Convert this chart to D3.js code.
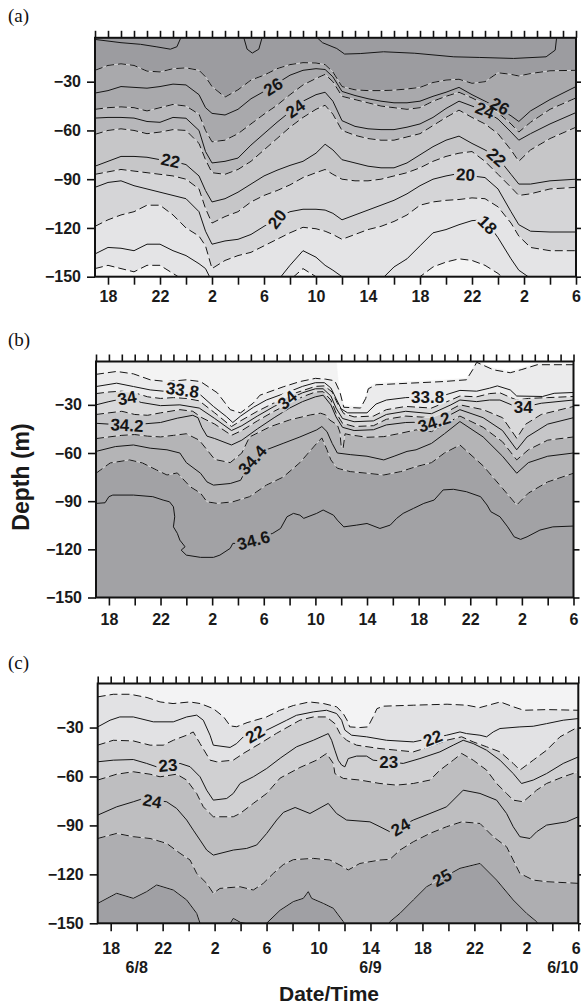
<!DOCTYPE html>
<html><head><meta charset="utf-8">
<script src="https://cdn.jsdelivr.net/npm/d3@7"></script>
<style>body{margin:0;background:#fff}</style>
</head><body>
<svg id="chart" width="581" height="1005"></svg>
<script>
// ---------- Panel (a) temperature (°C): depth of each isotherm at each hour ----------
const tempHours = [17,18,19,20,21,22,23,24,25,25.5,26,27,28,29,30,31,32,33,34,34.7,35.3,36,37,38,39,40,41,42,43,44,45,46,47,48,49,49.6,50.5,52,54];
const t28 = [[17,-4],[19,-6],[20.5,-7],[21.7,-8.5],[22.8,-10],[23.3,-8.5],[23.6,-3],[23.75,3],[28.3,3],[28.45,-3],[28.7,-10],[29.1,-12.4],[29.6,-10],[29.85,-3],[30,3],[33.9,3],[34.1,-3],[34.5,-6],[35.6,-9.6],[36.2,-13],[37.4,-12.7],[39.2,-11.6],[41.6,-12.5],[44.6,-14.7],[46.6,-15.1],[49.2,-15.7],[51.7,-14.7],[52.4,-10.6],[52.5,-3.5],[52.6,3],[54,3]];
const t27 = [-23,-20,-19,-20,-23.5,-24,-22,-21.5,-23,-27,-33,-39.5,-35,-29,-26,-22,-19.5,-18.3,-18.5,-19.5,-24,-33,-35,-35.5,-35.5,-35.2,-34.5,-33.5,-30.5,-29,-28.5,-31,-30,-24.5,-25.5,-26.5,-25,-23.3,-23];
const t26 = [-37,-35.5,-33,-33.5,-34,-33,-31.5,-32,-38,-46,-49.5,-50.5,-47,-40.5,-36,-31,-26,-23,-22,-22.5,-27,-36,-38.5,-40.5,-42,-43,-43,-42,-39,-36.5,-33.5,-38,-42,-46,-51,-54.5,-48,-41,-33];
const t25 = [-47,-46,-45.5,-46,-48,-46,-44,-45,-50,-60,-67,-66,-62,-56,-50,-44.5,-38,-32,-28,-25.5,-30,-39,-41,-43,-45,-46,-47,-46,-42,-39,-36.5,-40,-44,-49,-56,-61,-55,-47,-40];
const t24 = [-52.4,-52,-52,-52.4,-54.5,-55,-52,-52.5,-60,-73,-80,-79,-77,-69,-62,-55,-48.5,-42,-38,-36.5,-42,-54,-57.5,-59,-59.5,-59.5,-58,-56,-52,-46.5,-42,-45,-48,-53,-61,-66,-62,-56,-49];
const t23 = [-62.4,-60,-59,-60,-62,-61,-59.5,-60,-68,-78,-86,-87,-84,-79,-72,-65,-58,-52,-47,-44.5,-50,-60,-63,-65,-66,-66,-64,-62,-57,-52,-47.5,-52,-56,-62,-72,-79,-72,-65,-58];
const t22 = [-82,-79,-76,-76,-76.5,-78,-79,-81,-88,-97,-104,-102,-98,-93,-88,-84.5,-81.5,-79,-74,-68.5,-72,-78,-80,-82,-83,-83,-80,-75,-70,-66,-63.5,-68,-72,-77,-87,-93,-93,-91,-90];
const t21 = [-87,-85.5,-84,-85,-86,-87,-88,-90,-96,-108,-117,-113,-110,-104,-100,-97,-93.5,-89,-86,-84,-87,-90,-91,-91,-90,-88,-86,-83,-79,-76,-74,-73,-79,-87,-95,-100,-99,-96,-95];
const t20 = [-95,-92,-91,-94,-96,-98,-100,-102,-110,-122,-130,-128,-127,-124,-119,-114,-110,-108.5,-108.5,-109,-111,-115,-112,-109,-106,-103,-99,-94,-90,-88,-86.5,-88,-89,-96,-110,-118,-122,-122.5,-122.5];
const t19 = [-119,-115,-112,-110,-106,-106,-112,-120,-125,-131,-145,-140,-137,-135,-131,-127,-123,-119.6,-120.5,-122,-124,-127,-124,-121,-119,-116,-112,-106,-104,-103,-102.5,-101.5,-102,-107,-117,-125,-132,-134,-134];
const t18 = [-136,-132,-132.5,-134,-130,-130,-134,-137,-142,-145,-153,-155,-155,-155,-155,-153,-143,-134,-138,-143,-146,-150,-155,-155,-152,-144,-139,-131,-123,-121,-118,-115.5,-115,-126,-139,-146,-151,-155,-155];
const t17 = [-145,-143,-145,-147,-143,-143,-148,-153,-160,-160,-160,-160,-160,-160,-160,-160,-152,-145,-150,-155,-160,-160,-160,-160,-160,-160,-160,-150,-144,-141,-139,-140,-143,-148,-155,-160,-160,-160,-160];
const tempColors = ["#9c9ca0","#a9a9ac","#b7b7ba","#c6c6c8","#d5d5d7","#e4e4e6","#f4f4f4"];
const tempLabels = [["26",30.7,-33,-32],["24",32.4,-46.5,-35],["22",22.8,-78.5,12],["20",31,-114.5,-52],["26",48.15,-45,28],["24",47,-47.5,22],["22",47.9,-76.5,42],["20",45.5,-87,3],["18",47.2,-118,45]];

// ---------- Panel (b) salinity ----------
const s336 = [[17,3],[35.55,3],[35.8,-18],[36.2,-30.5],[37.5,-31],[37.9,-25],[38.1,-19],[38.7,-16.5],[41.3,-15.5],[43.9,-14.5],[45.7,-13.4],[46.2,-7],[46.5,-2.5],[47.8,-7.2],[49.1,-9],[50,-7],[51.2,-4],[54,-4]];
const s337 = [[17,-11],[18.6,-9.2],[19.9,-10.7],[21.2,-14.4],[22.5,-15.5],[24,-14.4],[25.1,-15.5],[26.4,-22.5],[27.4,-33],[28.2,-35],[29.2,-28.8],[29.7,-24],[31.5,-18.8],[32.8,-15.5],[34,-13.5],[34.8,-14],[35.5,-15],[35.9,-22],[36.2,-31.5],[37.5,-32],[37.9,-26],[38.1,-20],[38.7,-17.5],[41.3,-16.5],[43.9,-15.5],[45.7,-14.4],[46.2,-8],[46.5,-3.5],[47.8,-8.2],[49.1,-10],[50,-8],[51.2,-5],[54,-5]];
const s338 = [[17,-18.6],[18.6,-16.5],[19.9,-18.6],[21.2,-20.7],[22.5,-21.7],[23.7,-21],[25.1,-23.8],[26.1,-31],[27.1,-37.3],[27.6,-41],[28.2,-37],[29.2,-31.5],[30.2,-27],[32,-21.7],[33,-18.5],[34,-16.2],[34.7,-16.2],[35.2,-19.5],[35.6,-26],[36,-32.5],[36.5,-35],[38,-35],[38.7,-29.5],[39.5,-27],[41,-25.5],[42.7,-25],[44,-24],[45.2,-21],[46.5,-21.5],[47.5,-19.6],[48.1,-18.2],[49.1,-20.7],[49.6,-24.5],[51.6,-24.8],[52.5,-22.8],[54,-22.3]];
const s339 = [[17,-23],[18,-22],[19,-21.5],[20,-22.5],[21,-25],[22,-26],[23,-25.5],[24,-26],[25,-27.5],[26.2,-35],[27.5,-43.5],[28.2,-40],[29.5,-34],[31,-28],[32.5,-22.5],[34,-18.5],[34.7,-18.2],[35.3,-22],[35.7,-29],[36.2,-35.5],[37,-37.5],[38.5,-37],[39.5,-33],[41,-31],[43,-32],[44.5,-27],[45.2,-24.5],[46.5,-25],[47.5,-23],[48.3,-22.5],[49,-25],[49.6,-27],[50.5,-26],[52,-25.5],[54,-24.8]];
const s340 = [[17,-30],[18,-28],[19.4,-25.6],[20.5,-28.5],[22,-30.5],[23.5,-30],[25,-32],[26.2,-38.5],[27.5,-46],[28.3,-43],[29.5,-37],[30.8,-31],[31.8,-27],[33,-22.5],[34,-20],[34.6,-20],[35.2,-24.5],[35.6,-32],[36.1,-38.5],[37,-40.5],[38.5,-40],[39.5,-36],[41,-34],[43,-35.5],[44.5,-30],[45.2,-27],[46.5,-28],[47.5,-27],[48.3,-27],[49.2,-30],[50.1,-31.5],[51.5,-29],[54,-27]];
const s341 = [[17,-36],[18,-35],[19,-34],[20,-36],[21,-36.5],[22,-35],[23.5,-33],[24.5,-34],[25.2,-38],[26.2,-42],[27.5,-49],[28.3,-46],[29.5,-40],[30.8,-34],[32,-29],[33,-25],[34,-22],[34.6,-21.8],[35.2,-27],[35.6,-35],[36.1,-41.5],[37,-43.5],[38.5,-43],[39.5,-39],[41,-37],[43,-38],[44.5,-33],[45.2,-30],[47,-33],[48.5,-38],[49.6,-50.8],[50.3,-42],[51.5,-36],[54,-31]];
const s342 = [[17,-41.5],[18,-42],[19.4,-42.5],[20.5,-42],[22,-41],[23.3,-38.3],[24.5,-36.5],[24.9,-38],[25.2,-44],[25.6,-49.5],[26.2,-51],[27.5,-55],[28.3,-52],[29.5,-45],[30.8,-38],[32,-32],[33,-28],[34,-25],[34.6,-24],[35.2,-30],[35.6,-37.5],[36.1,-44],[37,-46],[38.5,-45.5],[39.5,-42.5],[41,-41],[43.2,-40.6],[44.5,-36],[45.2,-33],[47,-38],[48.5,-46],[49.6,-58],[50.4,-50],[52,-42],[54,-38]];
const s343 = [[17,-51],[18,-50],[19,-49],[20,-48.5],[21,-49.5],[22,-50],[23,-49],[24,-48],[25,-52],[25.6,-58],[26.2,-64],[27.4,-66],[28.3,-60],[28.9,-50],[30.5,-43.6],[32,-39.4],[33.6,-36.3],[34.4,-35.2],[34.8,-36.3],[35.1,-39.4],[35.7,-42.5],[35.9,-47],[36,-56],[36.15,-57],[36.3,-48],[36.7,-48.7],[38,-50.2],[39.3,-49.8],[40.6,-47.7],[41.8,-45.6],[43,-46.7],[44.5,-40],[45.2,-37],[47,-44],[48.5,-53],[49.6,-64.3],[50.5,-58],[52,-52],[54,-50]];
const s344 = [[17,-59],[18.5,-56],[19.9,-55],[21.2,-57],[22.5,-58],[23.5,-60],[24,-66],[25.1,-72.6],[25.6,-78],[26.1,-80],[27.4,-79],[28.2,-77],[28.6,-71],[29.1,-64.3],[30.2,-58],[31.5,-54],[32.8,-50],[34.1,-45.6],[34.5,-43.5],[34.9,-46.7],[35.3,-54],[35.7,-60],[36.7,-61],[38,-62],[39.3,-64.3],[40.1,-62],[41.1,-59],[41.8,-58],[43,-54],[44,-48],[45.2,-40.4],[47,-50],[48.5,-62],[49.6,-72.6],[50.5,-66],[52,-62],[54,-60]];
const s345 = [[17,-72.6],[18.1,-66.2],[19.6,-64.3],[20.6,-66.2],[21.7,-70.6],[22.5,-73.7],[23.3,-72.4],[24.3,-81],[25.1,-85],[25.6,-90.4],[26.4,-91.4],[27.6,-90.4],[28.9,-87.2],[30.2,-80],[31.5,-75],[32.8,-66],[34.1,-54],[34.5,-50.6],[34.9,-58],[35.2,-64.3],[35.7,-69.5],[36.7,-71.6],[38,-72.6],[39.3,-73.7],[40.6,-71.6],[41.8,-68.5],[43,-66],[44,-60],[45.2,-55],[47,-68],[48.5,-82],[49.6,-92.4],[50.5,-85],[52,-78],[54,-72.6]];
const s346 = [[17,-91.4],[17.7,-91],[18,-87.2],[18.3,-86.2],[19.9,-86.2],[21.4,-87.2],[22.2,-89.3],[22.7,-90.4],[23,-93.5],[23.1,-99.7],[23,-106],[23.3,-110],[23.5,-114.3],[23.9,-118.4],[23.6,-120.5],[24,-123.6],[25.1,-125],[26.1,-125],[26.6,-123.6],[27.4,-119.4],[27.6,-116.3],[28.2,-116.3],[29.2,-114.3],[30.7,-110],[31.3,-107],[31.8,-99.7],[32.3,-97.6],[32.8,-98.7],[33.1,-100.7],[34.1,-97.6],[34.6,-95.5],[35.4,-98.7],[35.7,-101.8],[36.2,-106],[37.2,-104.9],[38,-103.9],[39,-107],[39.8,-104.9],[40.3,-100.7],[40.8,-97.6],[41.6,-94.5],[42.4,-91.4],[43.2,-89.3],[43.9,-83],[44.7,-82.6],[45.7,-84.1],[46.8,-87.2],[47.3,-92.4],[47.6,-96.6],[48.3,-99.7],[48.9,-106],[49.4,-112.2],[49.9,-113.8],[50.4,-112.2],[51.4,-108],[52.4,-106],[54,-105.5]];
const salColors = ["#ffffff","#f3f3f3","#ebebec","#d9d9da","#c6c6c8","#b4b4b6","#a2a2a5"];
const salLabels = [["34",19.4,-25.6,-10],["33.8",23.7,-20.6,8],["34.2",19.4,-42.5,3],["34",31.8,-26.9,-40],["34.4",29.1,-64.3,-48],["34.6",29.2,-114.3,-15],["33.8",42.7,-25,0],["34.2",43.2,-40.6,-18],["34",50.1,-31.2,0]];

// ---------- Panel (c) density ----------
const d215 = [[17,-11.2],[18.2,-9.6],[19.5,-9.6],[20.8,-11.6],[21.8,-14.3],[22.8,-15.3],[24.1,-14.3],[24.9,-15.3],[25.9,-18.4],[26.7,-23.5],[27.2,-29],[27.7,-29.5],[28.5,-27],[30,-23.5],[31,-19.5],[32.06,-16.5],[33.3,-14.3],[34.4,-15.3],[35.4,-17.3],[35.9,-21.4],[36.2,-25.5],[36.4,-29.6],[37.2,-30],[37.8,-29.6],[38.2,-23.5],[38.5,-18.4],[39,-16.9],[41.3,-16.3],[43.9,-15.7],[45.4,-16.3],[46.4,-17.8],[48,-14.3],[49,-17.3],[49.8,-19.4],[51.6,-19],[54,-19.4]];
const d22 = [[17,-29.6],[17.95,-25.5],[18.7,-23.5],[19.74,-23.5],[20.26,-24.5],[21.28,-26.5],[22.82,-26.5],[23.85,-23.5],[24.62,-22.4],[25.13,-25.5],[25.65,-34.7],[25.9,-40.8],[27.19,-42.2],[27.7,-39.8],[28.21,-35.7],[30.01,-31.6],[31.55,-25.5],[32.3,-22.5],[33.6,-20.4],[34.62,-19.4],[35.39,-21.4],[35.78,-25.5],[36.03,-31.6],[36.55,-34.7],[37.7,-35.7],[39.24,-37.8],[41.3,-38.8],[43.86,-34.7],[44.89,-32.7],[45.4,-33.7],[46.43,-34.7],[46.94,-35.7],[47.45,-32.7],[47.97,-30.6],[49.5,-29.6],[50.53,-29.2],[51.56,-27.6],[52.84,-25.5],[54,-24.5]];
const d225 = [[17,-40.8],[18.2,-37.8],[19.74,-38.2],[21.03,-40.8],[22.05,-40.8],[22.82,-37.8],[23.85,-34.7],[24.36,-32.7],[24.88,-39.8],[25.65,-50],[26.16,-51],[27.44,-50],[28.21,-45.9],[29.5,-39.8],[30.78,-33.5],[32.57,-25.5],[33.6,-23.5],[34.62,-23.5],[35.26,-27.6],[35.65,-33.7],[36.16,-37.8],[36.93,-40.8],[38.73,-42.9],[41.3,-44.9],[42.58,-41.8],[43.86,-37.8],[45.02,-35.7],[45.91,-38.8],[46.94,-41.8],[47.97,-44.9],[48.99,-52],[49.5,-56.1],[50.53,-50],[51.56,-43.9],[52.59,-35.7],[54,-29.6]];
const d23 = [[17,-51],[18.2,-50],[19.74,-49.6],[20.77,-52],[21.54,-54.1],[23.34,-52],[24.11,-54],[24.88,-60.2],[25.39,-68.4],[25.9,-74.5],[26.93,-73.5],[27.44,-70.4],[27.96,-64.3],[28.98,-60.2],[30.01,-55.1],[31.1,-48.5],[32.31,-41.8],[33.6,-37.8],[34.75,-33.7],[35.01,-37.8],[35.26,-43.9],[35.52,-50],[35.78,-53],[36.03,-54.1],[36.29,-49],[36.93,-47.5],[37.7,-47.5],[38.2,-50],[39.4,-51],[40.52,-52],[41.81,-49],[43.35,-44.9],[44.37,-40.8],[45.14,-37.8],[45.91,-39.8],[46.94,-43.9],[47.97,-50],[48.99,-58.2],[49.63,-64.3],[50.53,-62.2],[51.56,-58.2],[52.84,-52],[54,-48]];
const d235 = [[17,-62.2],[18.46,-58.6],[19.74,-57.1],[21.03,-58.6],[21.8,-60.2],[23.08,-58.6],[23.85,-62.2],[24.62,-70.4],[25.13,-78.6],[25.9,-84.7],[27.44,-84.7],[27.96,-82.7],[28.98,-76.5],[30.01,-70.4],[31.04,-61],[32.57,-54.5],[33.85,-50],[34.62,-45.9],[35.14,-52],[35.26,-58.2],[35.91,-61.2],[37.19,-62.2],[38.73,-64.3],[40.01,-65.3],[41.3,-64.3],[42.58,-62.2],[43.35,-56.1],[44.37,-50],[45.02,-45.9],[45.91,-50],[46.94,-56.1],[47.71,-64.3],[48.48,-70.4],[48.99,-74.5],[49.76,-75.5],[50.79,-68.4],[51.56,-64.3],[52.84,-60.2],[54,-57.1]];
const d24 = [[17,-83.7],[18.46,-78.6],[19.74,-75.5],[20.51,-73.5],[22.31,-75.5],[23.08,-79.6],[23.85,-86.7],[24.36,-92.9],[24.88,-99],[25.39,-105.1],[25.9,-108.2],[27.44,-105.1],[28.47,-104.1],[29.24,-102],[30.01,-94.9],[30.78,-86.7],[31.3,-82],[32.2,-79],[33.34,-82.7],[34.75,-76.5],[35.39,-82.7],[36.16,-86.7],[37.96,-87.8],[38.73,-90.8],[39.5,-93.9],[41.3,-86.7],[42.58,-82.7],[43.86,-78.6],[45.14,-68.4],[46.43,-70.4],[47.71,-74.5],[48.48,-82.7],[48.99,-90.8],[49.5,-96.9],[50.28,-98],[50.79,-93.9],[51.56,-89.8],[53.1,-87.8],[54,-84.7]];
const d245 = [[17,-98],[18.46,-94.9],[19.74,-96.9],[21.03,-98],[22.31,-101],[23.34,-107.1],[24.11,-111.2],[24.62,-119.4],[25.39,-125.5],[25.9,-131.6],[26.42,-128.6],[27.96,-127.6],[28.98,-129.6],[29.75,-125.5],[30.52,-119.4],[31.29,-114],[32.06,-111],[33.6,-110.2],[34.88,-111.2],[35.65,-114.3],[36.29,-117.3],[37.19,-113.3],[38.73,-111.2],[39.5,-110.8],[40.27,-105.1],[41.3,-100],[42.58,-94.9],[43.86,-90.8],[45.02,-87.8],[46.43,-88.8],[47.45,-96.9],[48.48,-103.1],[49.5,-119.4],[50.53,-123.5],[51.56,-124.5],[54,-125.5]];
const d25 = [[17,-137.8],[18.46,-131.6],[19.74,-134.7],[20.77,-130.6],[21.54,-126.5],[22.82,-129.6],[23.85,-135.7],[24.62,-143.9],[24.88,-150],[25.2,-155],[27,-155],[27.2,-150],[27.44,-147],[28,-149.5],[29,-151],[30,-150],[31.04,-142],[32.06,-136.7],[32.83,-134.7],[33.21,-130.6],[33.47,-134.7],[34.37,-137.8],[35.14,-140.8],[35.91,-149],[36.3,-155],[39.2,-155],[39.5,-149],[40.27,-143.9],[41.3,-135.7],[42.32,-127.6],[44.89,-116.3],[46.43,-113.3],[47.71,-123.5],[48.99,-135.7],[50.02,-143.9],[50.79,-149],[51.2,-155],[54,-155]];
const denColors = ["#f3f3f4","#e2e2e4","#d0d0d2","#bebec0","#aeaeb1","#a0a0a4"];
const denLabels = [["22",29.1,-34,-30],["23",22.4,-53,-5],["24",21.2,-75,10],["22",42.8,-36.5,-22],["23",39.4,-51,0],["24",40.3,-91,-30],["25",43.5,-122,-28]];

// ---------- axes ----------
const depthTicks = [-30,-60,-90,-120,-150];
const topTickHours = d3.range(17,55,1);
const bottomTickHours = d3.range(18,55,2);
const dateLabels = [["6/8",20,"middle"],["6/9",38,"middle"],["6/10",54,"end"]];

const SANS = "Arial, 'Liberation Sans', Helvetica, sans-serif";
const SERIF = "'Times New Roman', 'Liberation Serif', Times, serif";
const zipA = arr => tempHours.map((h,i)=>[h,arr[i]]);

const panels = [
  {id:"a", tag:"(a)", tagY:22, x0:95, x1:576, y0:37.8, y1:276.7, labPad:5.5,
   colors:tempColors, bounds:[zipA(t27),zipA(t25),zipA(t23),zipA(t21),zipA(t19),zipA(t17)],
   lines:[[t28,0],[zipA(t27),1],[zipA(t26),0],[zipA(t25),1],[zipA(t24),0],[zipA(t23),1],[zipA(t22),0],[zipA(t21),1],[zipA(t20),0],[zipA(t19),1],[zipA(t18),0],[zipA(t17),1]],
   labels:tempLabels},
  {id:"b", tag:"(b)", tagY:346, x0:96, x1:573.5, y0:361.5, y1:597.5, labPad:8.5,
   colors:salColors, bounds:[s336,s337,s339,s341,s343,s345],
   lines:[[s337,1],[s338,0],[s339,1],[s340,0],[s341,1],[s342,0],[s343,1],[s344,0],[s345,1],[s346,0]],
   labels:salLabels},
  {id:"c", tag:"(c)", tagY:669, x0:97.7, x1:578.3, y0:683.5, y1:923.3, labPad:11.5,
   colors:denColors, bounds:[d215,d225,d235,d245,d25],
   lines:[[d215,1],[d22,0],[d225,1],[d23,0],[d235,1],[d24,0],[d245,1],[d25,0]],
   labels:denLabels}
];

const svg = d3.select("#chart");
const defs = svg.append("defs");

function hourLabel(h){ return ((h-18)%4===0) ? String(h%24) : ""; }

panels.forEach(p=>{
  const x = d3.scaleLinear().domain([17,54]).range([p.x0,p.x1]);
  const y = d3.scaleLinear().domain([-150,-3]).range([p.y1,p.y0]);
  const line = d3.line().x(d=>x(d[0])).y(d=>y(d[1]));

  defs.append("clipPath").attr("id","clip-"+p.id).append("rect")
    .attr("x",p.x0).attr("y",p.y0).attr("width",p.x1-p.x0).attr("height",p.y1-p.y0);
  const mask = defs.append("mask").attr("id","mask-"+p.id).attr("maskUnits","userSpaceOnUse")
    .attr("x",0).attr("y",0).attr("width",581).attr("height",1005);
  mask.append("rect").attr("width",581).attr("height",1005).attr("fill","white");

  const plot = svg.append("g").attr("clip-path","url(#clip-"+p.id+")");
  plot.append("rect").attr("x",p.x0).attr("y",p.y0).attr("width",p.x1-p.x0).attr("height",p.y1-p.y0).attr("fill",p.colors[0]);
  p.bounds.forEach((b,i)=>{
    plot.append("path").attr("d", line(b.concat([[54.5,-220],[16.5,-220]]))+"Z").attr("fill",p.colors[i+1]);
  });
  p.bounds.forEach(b=>{
    plot.append("path").attr("d",line(b)).attr("fill","none").attr("stroke","#f2f2f2").attr("stroke-width",0.7).attr("opacity",0.8);
  });
  const lg = plot.append("g").attr("mask","url(#mask-"+p.id+")");
  p.lines.forEach(([pts,dashed])=>{
    lg.append("path").attr("d",line(pts)).attr("fill","none").attr("stroke","#151515")
      .attr("stroke-width",1).attr("stroke-dasharray",dashed?"8,4":null);
  });
  p.labels.forEach(([t,h,d,a])=>{
    const tx=x(h), ty=y(d);
    const txt = plot.append("text").attr("transform",`translate(${tx},${ty}) rotate(${a})`)
      .attr("text-anchor","middle").attr("dy","0.36em").style("font-family",SANS).attr("font-size",17).attr("font-weight","bold")
      .attr("fill","#161616").text(t);
    const w = txt.node().getComputedTextLength();
    mask.append("rect").attr("transform",`translate(${tx},${ty}) rotate(${a})`)
      .attr("x",-w/2-2).attr("y",-7.5).attr("width",w+4).attr("height",15).attr("fill","black");
  });

  const styleAxis = g => { g.select(".domain").remove(); g.selectAll("line").attr("stroke","#111").attr("stroke-width",1.6);
    g.selectAll("text").style("font-family",SANS).attr("font-size",16).attr("font-weight","bold").attr("fill","#1a1a1a"); };
  svg.append("g").attr("transform",`translate(${p.x0},0)`)
    .call(d3.axisLeft(y).tickValues(depthTicks).tickSize(8).tickPadding(6).tickFormat(d3.format("d"))).call(styleAxis);
  svg.append("g").attr("transform",`translate(${p.x1},0)`)
    .call(d3.axisRight(y).tickValues(depthTicks).tickSize(6).tickFormat("")).call(styleAxis);
  svg.append("g").attr("transform",`translate(0,${p.y0})`)
    .call(d3.axisTop(x).tickValues(topTickHours).tickSize(7).tickFormat("")).call(styleAxis);
  const bx = svg.append("g").attr("transform",`translate(0,${p.y1})`)
    .call(d3.axisBottom(x).tickValues(bottomTickHours).tickSize(8).tickPadding(p.labPad).tickFormat(hourLabel)).call(styleAxis);
  bx.selectAll(".tick").filter(d=>d===54).select("text").attr("dx", p.x1>577 ? -2.5 : 0);
  svg.append("rect").attr("x",p.x0).attr("y",p.y0).attr("width",p.x1-p.x0).attr("height",p.y1-p.y0)
    .attr("fill","none").attr("stroke","#111").attr("stroke-width",2);
  svg.append("text").attr("x",8).attr("y",p.tagY).style("font-family",SERIF)
    .attr("font-size",19).attr("fill","#111").text(p.tag);

  if(p.id==="c"){
    dateLabels.forEach(([t,h,anc])=>{
      svg.append("text").attr("x",x(h)).attr("y",973).attr("text-anchor",anc).style("font-family",SANS)
        .attr("font-size",16).attr("font-weight","bold").attr("fill","#1a1a1a").text(t);
    });
    svg.append("text").attr("x",329).attr("y",1001).attr("text-anchor","middle").style("font-family",SANS)
      .attr("font-size",21).attr("font-weight","bold").attr("fill","#1a1a1a").text("Date/Time");
  }
});

svg.append("text").attr("transform","translate(29,477) rotate(-90)").attr("text-anchor","middle").style("font-family",SANS)
  .attr("font-size",23).attr("font-weight","bold").attr("fill","#1a1a1a").text("Depth (m)");
</script>
</body></html>
